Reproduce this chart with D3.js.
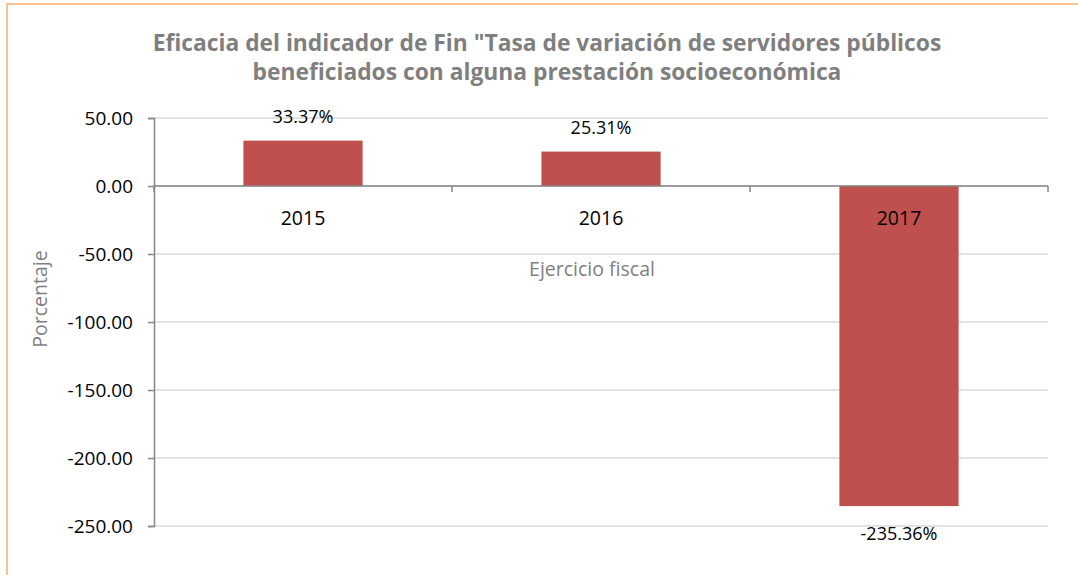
<!DOCTYPE html>
<meta charset="utf-8">
<script src="https://d3js.org/d3.v7.min.js"></script>
<style>
  body { margin: 0; background: #fff; }
  text { font-family: "Open Sans", "Noto Sans", sans-serif; }
</style>
<div id="chart"></div>
<script>

// data
var years = ["2015", "2016", "2017"];
var values = [33.37, 25.31, -235.36];
var yTicks = [50, 0, -50, -100, -150, -200, -250];
var titleLines = ["Eficacia del indicador de Fin \"Tasa de variación de servidores públicos",
                  "beneficiados con alguna prestación socioeconómica"];

var W = 1078, H = 575;
var margin = {top: 118, right: 30, bottom: 49, left: 154},
    width = 1048 - margin.left,
    height = 526 - margin.top;

var svg = d3.select("#chart")
  .append("svg")
    .attr("width", W)
    .attr("height", H);

// chart area border (runs off the right and bottom edges)
svg.append("rect")
    .attr("x", 7).attr("y", 4)
    .attr("width", W + 20).attr("height", H + 20)
    .attr("fill", "none")
    .attr("stroke", "#f9c290")
    .attr("stroke-width", 2);

var g = svg.append("g")
    .attr("transform", "translate(" + margin.left + "," + margin.top + ")");

var x = d3.scaleBand()
  .domain(years)
  .range([0, width])
  .padding(0);

var y = d3.scaleLinear()
  .domain([-250, 50])
  .range([height, 0]);

// gridlines
g.selectAll(".grid")
  .data(yTicks)
  .enter().append("line")
    .attr("x1", 0).attr("x2", width)
    .attr("y1", function(d) { return y(d); })
    .attr("y2", function(d) { return y(d); })
    .attr("stroke", "#d9d9d9")
    .attr("stroke-width", 1.3);

// bars
var barFrac = 0.4;
g.selectAll("rect.bar")
  .data(values)
  .enter().append("rect")
    .attr("class", "bar")
    .attr("x", function(d, i) { return x(years[i]) + x.bandwidth() * (1 - barFrac) / 2; })
    .attr("width", x.bandwidth() * barFrac)
    .attr("y", function(d) { return y(Math.max(0, d)); })
    .attr("height", function(d) { return Math.abs(y(d) - y(0)); })
    .attr("fill", "#c0504d");

// Y axis (plain hyphen for negatives, like the original)
var yAxis = g.append("g")
  .call(d3.axisLeft(y).tickValues(yTicks).tickSize(6).tickPadding(15)
        .tickFormat(function(d) { return d.toFixed(2); }));
yAxis.select(".domain").attr("stroke", "#868686").attr("stroke-width", 1.5);
yAxis.selectAll(".tick line").attr("stroke", "#868686").attr("stroke-width", 1.5);
yAxis.selectAll(".tick text")
    .attr("fill", "#000")
    .style("font-size", "19px");

// X axis along zero
var xAxis = g.append("g")
  .attr("transform", "translate(0," + y(0) + ")");
xAxis.append("line")
    .attr("x1", 0).attr("x2", width)
    .attr("stroke", "#868686").attr("stroke-width", 1.5);
xAxis.selectAll(".xt")
  .data(years.concat(["end"]))
  .enter().append("line")
    .attr("x1", function(d, i) { return i * x.step(); })
    .attr("x2", function(d, i) { return i * x.step(); })
    .attr("y1", 0).attr("y2", 6)
    .attr("stroke", "#868686").attr("stroke-width", 1.5);
xAxis.selectAll(".xl")
  .data(years)
  .enter().append("text")
    .attr("x", function(d) { return x(d) + x.bandwidth() / 2; })
    .attr("y", 39)
    .attr("text-anchor", "middle")
    .style("font-size", "19.5px")
    .attr("fill", "#000")
    .text(function(d) { return d; });

// data labels
g.selectAll(".lbl")
  .data(values)
  .enter().append("text")
    .attr("x", function(d, i) { return x(years[i]) + x.bandwidth() / 2; })
    .attr("y", function(d) { return d >= 0 ? y(d) - 18 : y(d) + 34; })
    .attr("text-anchor", "middle")
    .style("font-size", "18px")
    .attr("fill", "#000")
    .text(function(d) { return d.toFixed(2) + "%"; });

// axis titles
svg.append("text")
    .attr("x", 592).attr("y", 276)
    .attr("text-anchor", "middle")
    .style("font-size", "19.5px")
    .attr("fill", "#7f7f7f")
    .text("Ejercicio fiscal");

svg.append("text")
    .attr("transform", "translate(47,299) rotate(-90)")
    .attr("text-anchor", "middle")
    .style("font-size", "19.5px")
    .attr("fill", "#7f7f7f")
    .text("Porcentaje");

// title
svg.selectAll(".title")
  .data(titleLines)
  .enter().append("text")
    .attr("x", 547)
    .attr("y", function(d, i) { return 51 + i * 29; })
    .attr("text-anchor", "middle")
    .style("font-size", "22.8px")
    .style("font-weight", "bold")
    .attr("fill", "#7f7f7f")
    .text(function(d) { return d; });

</script>
